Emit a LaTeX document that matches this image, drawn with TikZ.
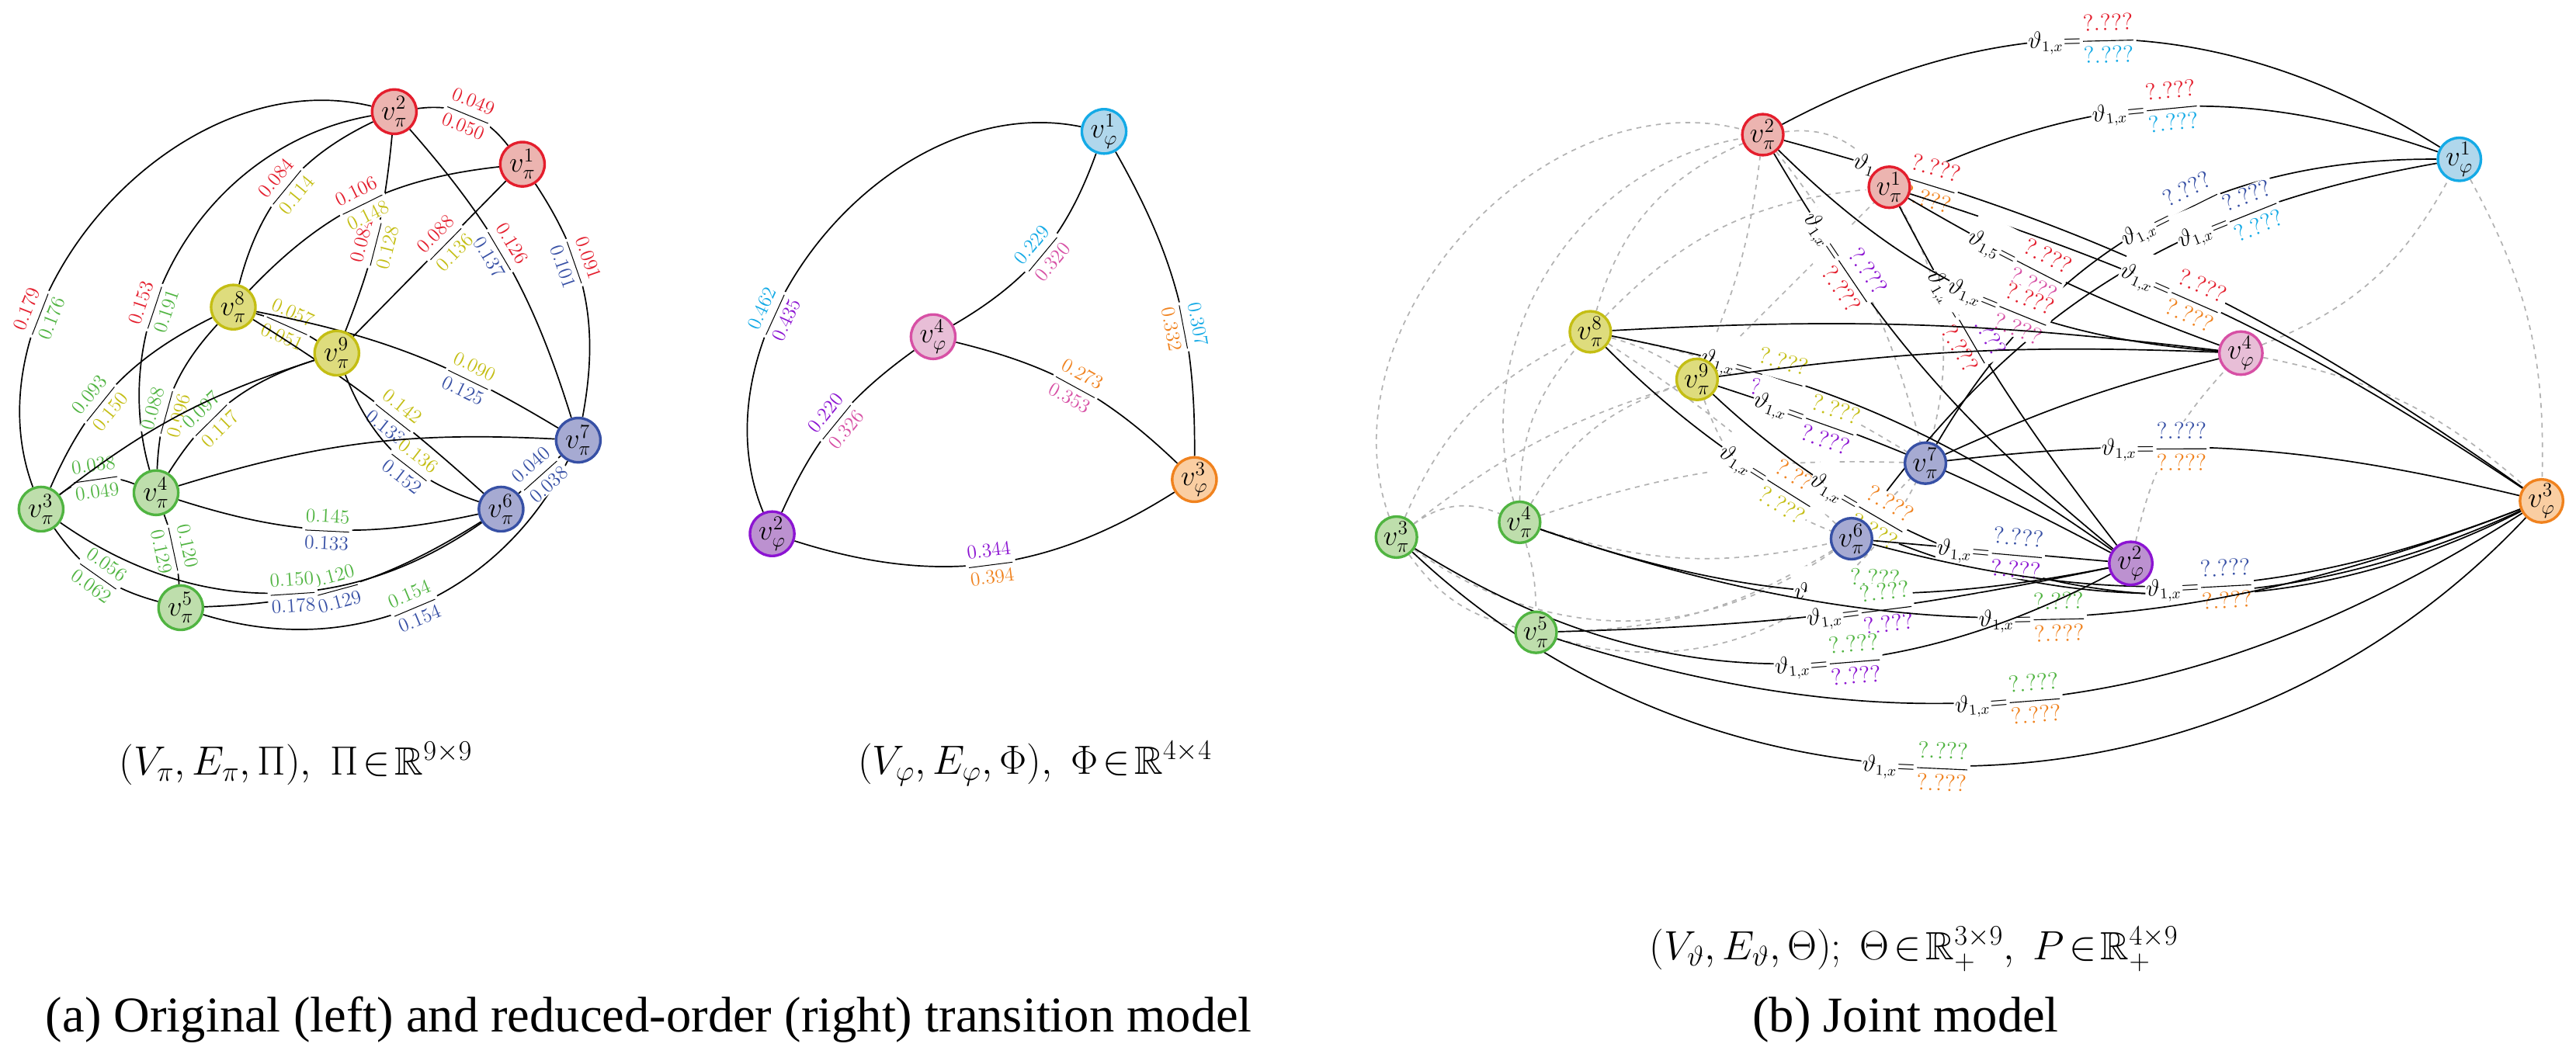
\documentclass[tikz,border=0pt]{standalone}
\usepackage{amsmath,amssymb}
\usepackage{fontspec}
\newfontfamily\capfont{Liberation Serif}
\pgfdeclarelayer{bg}\pgfdeclarelayer{mid}
\pgfsetlayers{bg,mid,main}
\definecolor{cR}{RGB}{228,30,45}\definecolor{fR}{RGB}{236,180,176}
\definecolor{cG}{RGB}{80,180,65}\definecolor{fG}{RGB}{190,222,172}
\definecolor{cY}{RGB}{196,190,20}\definecolor{fY}{RGB}{222,220,125}
\definecolor{cB}{RGB}{55,80,165}\definecolor{fB}{RGB}{166,170,210}
\definecolor{cC}{RGB}{20,170,230}\definecolor{fC}{RGB}{176,215,236}
\definecolor{cP}{RGB}{215,80,165}\definecolor{fP}{RGB}{232,190,215}
\definecolor{cO}{RGB}{240,130,30}\definecolor{fO}{RGB}{250,206,162}
\definecolor{cV}{RGB}{140,20,210}\definecolor{fV}{RGB}{188,145,208}
\newcommand\lf[4]{$\displaystyle\frac{\textcolor{#1}{#2}}{\textcolor{#3}{#4}}$}
\newcommand\tf[2]{$\vartheta_{1,x}{=}\displaystyle\frac{\textcolor{#1}{?.???}}{\textcolor{#2}{?.???}}$}
\newcommand\tfs[2]{$\vartheta_{1,5}{=}\displaystyle\frac{\textcolor{#1}{?.???}}{\textcolor{#2}{?.???}}$}
\tikzset{
 nd/.style 2 args={circle,draw=#1,fill=#2,line width=1.6pt,minimum size=27pt,inner sep=0pt,font=\fontsize{18}{19}\selectfont},
 ndr/.style 2 args={nd={#1}{#2},minimum size=25pt},
 e/.style={black,line width=0.8pt},
 d/.style={gray!60,dashed,line width=0.8pt},
 lab/.style={sloped,fill=white,inner sep=0.6pt,font=\fontsize{12}{13}\selectfont},
 tl/.style={sloped,fill=white,inner sep=0.6pt,font=\fontsize{13.5}{14}\selectfont},
}
\begin{document}
\begin{tikzpicture}[x=1pt,y=-1pt]
\useasboundingbox (0,0) rectangle (1568,641.3);
% ---------------- left graph
\node[nd={cR}{fR}] (a2) at (240,68) {$v_\pi^{2}$};
\node[nd={cR}{fR}] (a1) at (318,100) {$v_\pi^{1}$};
\node[nd={cY}{fY}] (a8) at (142,187) {$v_\pi^{8}$};
\node[nd={cY}{fY}] (a9) at (205,215) {$v_\pi^{9}$};
\node[nd={cB}{fB}] (a7) at (352,268) {$v_\pi^{7}$};
\node[nd={cG}{fG}] (a3) at (25,310) {$v_\pi^{3}$};
\node[nd={cG}{fG}] (a4) at (95,300) {$v_\pi^{4}$};
\node[nd={cB}{fB}] (a6) at (305,310) {$v_\pi^{6}$};
\node[nd={cG}{fG}] (a5) at (110,370) {$v_\pi^{5}$};
\begin{pgfonlayer}{mid}
\draw[e] (a3) to[bend left=62] node[lab,pos=0.3]{\lf{cR}{0.179}{cG}{0.176}} (a2);
\draw[e] (a4) to[bend left=48] node[lab,pos=0.35]{\lf{cR}{0.153}{cG}{0.191}} (a2);
\draw[e] (a8) to[bend left=25] node[lab]{\lf{cR}{0.084}{cY}{0.114}} (a2);
\draw[e] (a9) to[bend right=8] node[lab,pos=0.45]{\lf{cR}{0.084}{cY}{0.128}} (a2);
\draw[e] (a8) to[bend left=20] node[lab,pos=0.5]{\lf{cR}{0.106}{cY}{0.148}} (a1);
\draw[e] (a2) to[bend left=30] node[lab]{\lf{cR}{0.049}{cR}{0.050}} (a1);
\draw[e] (a2) to[bend left=12] node[lab,pos=0.45]{\lf{cR}{0.126}{cB}{0.137}} (a7);
\draw[e] (a1) to[bend left=22] node[lab,pos=0.35]{\lf{cR}{0.091}{cB}{0.101}} (a7);
\draw[e] (a9) to node[lab,pos=0.6]{\lf{cR}{0.088}{cY}{0.136}} (a1);
\draw[e] (a8) to[bend left=8] node[lab]{\lf{cY}{0.057}{cY}{0.051}} (a9);
\draw[e] (a8) to[bend left=10] node[lab,pos=0.7]{\lf{cY}{0.090}{cB}{0.125}} (a7);
\draw[e] (a8) to[bend left=5] node[lab,pos=0.6]{\lf{cY}{0.142}{cB}{0.133}} (a6);
\draw[e] (a3) to[bend left=20] node[lab,pos=0.4]{\lf{cG}{0.093}{cY}{0.150}} (a8);
\draw[e] (a4) to[bend left=20] node[lab,pos=0.35]{\lf{cG}{0.088}{cY}{0.096}} (a8);
\draw[e] (a4) to[bend left=20] node[lab,pos=0.35]{\lf{cG}{0.097}{cY}{0.117}} (a9);
\draw[e] (a3) to[bend left=30] node[lab]{\lf{cG}{0.038}{cG}{0.049}} (a4);
\draw[e] (a9) to[bend right=25] node[lab,pos=0.6]{\lf{cY}{0.136}{cB}{0.152}} (a6);
\draw[e] (a4) to[bend right=15] node[lab,pos=0.5]{\lf{cG}{0.145}{cB}{0.133}} (a6);
\draw[e] (a4) to[bend left=8] node[lab]{\lf{cG}{0.120}{cG}{0.129}} (a5);
\draw[e] (a3) to[bend right=20] node[lab]{\lf{cG}{0.056}{cG}{0.062}} (a5);
\draw[e] (a5) to[bend right=15] node[lab,pos=0.45]{\lf{cG}{0.120}{cB}{0.129}} (a6);
\draw[e] (a3) to[bend right=35] node[lab,pos=0.55]{\lf{cG}{0.150}{cB}{0.178}} (a6);
\draw[e] (a5) to[bend right=40] node[lab,pos=0.5]{\lf{cG}{0.154}{cB}{0.154}} (a7);
\draw[e] (a6) to node[lab]{\lf{cB}{0.040}{cB}{0.038}} (a7);
\draw[e] (a3) to[bend left=10] (a9);
\draw[e] (a4) to[bend left=10] (a7);
\end{pgfonlayer}
\node[font=\fontsize{24}{26}\selectfont] (ca) at (180,465) {$(V_\pi,E_\pi,\Pi),\ \Pi\!\in\!\mathbb{R}^{9\times9}$};
% ---------------- middle graph
\node[nd={cC}{fC}] (b1) at (672,80) {$v_\varphi^{1}$};
\node[nd={cP}{fP}] (b4) at (568,205) {$v_\varphi^{4}$};
\node[nd={cO}{fO}] (b3) at (727,292) {$v_\varphi^{3}$};
\node[nd={cV}{fV}] (b2) at (470,325) {$v_\varphi^{2}$};
\begin{pgfonlayer}{mid}
\draw[e] (b2) to[bend left=62] node[lab,pos=0.35]{\lf{cC}{0.462}{cV}{0.435}} (b1);
\draw[e] (b4) to[bend right=20] node[lab]{\lf{cC}{0.229}{cP}{0.320}} (b1);
\draw[e] (b1) to[bend left=15] node[lab,pos=0.6]{\lf{cC}{0.307}{cO}{0.332}} (b3);
\draw[e] (b4) to[bend left=15] node[lab,pos=0.5]{\lf{cO}{0.273}{cP}{0.353}} (b3);
\draw[e] (b2) to[bend left=15] node[lab]{\lf{cV}{0.220}{cP}{0.326}} (b4);
\draw[e] (b2) to[bend right=25] node[lab]{\lf{cV}{0.344}{cO}{0.394}} (b3);
\end{pgfonlayer}
\node[font=\fontsize{24}{26}\selectfont] (cb) at (630,465) {$(V_\varphi,E_\varphi,\Phi),\ \Phi\!\in\!\mathbb{R}^{4\times4}$};
% ---------------- right graph
\node[ndr={cR}{fR}] (r2) at (1073,82) {$v_\pi^{2}$};
\node[ndr={cR}{fR}] (r1) at (1150,114) {$v_\pi^{1}$};
\node[ndr={cY}{fY}] (r8) at (968,202) {$v_\pi^{8}$};
\node[ndr={cY}{fY}] (r9) at (1033,231) {$v_\pi^{9}$};
\node[ndr={cB}{fB}] (r7) at (1172,282) {$v_\pi^{7}$};
\node[ndr={cG}{fG}] (r3) at (850,327) {$v_\pi^{3}$};
\node[ndr={cG}{fG}] (r4) at (925,318) {$v_\pi^{4}$};
\node[ndr={cB}{fB}] (r6) at (1127,328) {$v_\pi^{6}$};
\node[ndr={cG}{fG}] (r5) at (935,385) {$v_\pi^{5}$};
\node[ndr={cC}{fC}] (s1) at (1497,97) {$v_\varphi^{1}$};
\node[ndr={cP}{fP}] (s4) at (1364,215) {$v_\varphi^{4}$};
\node[ndr={cV}{fV}] (s2) at (1297,343) {$v_\varphi^{2}$};
\node[ndr={cO}{fO}] (s3) at (1547,305) {$v_\varphi^{3}$};
\begin{pgfonlayer}{bg}
\draw[d] (r3) to[bend left=62] (r2);
\draw[d] (r4) to[bend left=48] (r2);
\draw[d] (r8) to[bend left=25] (r2);
\draw[d] (r9) to[bend right=8] (r2);
\draw[d] (r8) to[bend left=20] (r1);
\draw[d] (r2) to[bend left=30] (r1);
\draw[d] (r2) to[bend left=12] (r7);
\draw[d] (r1) to[bend left=22] (r7);
\draw[d] (r9) to (r1);
\draw[d] (r8) to[bend left=8] (r9);
\draw[d] (r8) to[bend left=10] (r7);
\draw[d] (r8) to[bend left=5] (r6);
\draw[d] (r3) to[bend left=20] (r8);
\draw[d] (r4) to[bend left=20] (r8);
\draw[d] (r4) to[bend left=20] (r9);
\draw[d] (r3) to[bend left=30] (r4);
\draw[d] (r9) to[bend right=25] (r6);
\draw[d] (r4) to[bend right=15] (r6);
\draw[d] (r4) to[bend left=8] (r5);
\draw[d] (r3) to[bend right=20] (r5);
\draw[d] (r5) to[bend right=15] (r6);
\draw[d] (r3) to[bend right=35] (r6);
\draw[d] (r5) to[bend right=40] (r7);
\draw[d] (r6) to (r7);
\draw[d] (r3) to[bend left=10] (r9);
\draw[d] (r4) to[bend left=10] (r7);
\draw[d] (s4) to[bend right=20] (s1);
\draw[d] (s1) to[bend left=15] (s3);
\draw[d] (s4) to[bend left=15] (s3);
\draw[d] (s2) to[bend left=15] (s4);
\end{pgfonlayer}
\begin{pgfonlayer}{mid}
\draw[e] (r2) to[bend left=30] node[tl,pos=0.45]{\tf{cR}{cC}} (s1);
\draw[e] (r1) to[bend left=22] node[tl,pos=0.45]{\tf{cR}{cC}} (s1);
\draw[e] (r2) to[bend left=10] node[tl,pos=0.14]{\tf{cR}{cO}} (s3);
\draw[e] (r7) to[bend left=30] node[tl,pos=0.55]{\tf{cB}{cC}} (s1);
\draw[e] (r6) to[bend left=22] node[tl,pos=0.7]{\tf{cB}{cC}} (s1);
\draw[e] (r1) to[bend left=8] node[tl,pos=0.4]{\tf{cR}{cO}} (s3);
\draw[e] (r2) to[bend right=10] node[tl,pos=0.22]{\tf{cV}{cR}} (s2);
\draw[e] (r1) to[bend right=5] node[tl,pos=0.3]{\tf{cV}{cR}} (s2);
\draw[e] (r1) to[bend right=5] node[tl,pos=0.35]{\tfs{cR}{cP}} (s4);
\draw[e] (r2) to[bend right=20] node[tl,pos=0.55]{\tf{cR}{cP}} (s4);
\draw[e] (r8) to[bend left=12] node[tl,pos=0.25]{\tf{cY}{cV}} (s2);
\draw[e] (r9) to[bend left=5] node[tl,pos=0.2]{\tf{cY}{cV}} (s2);
\draw[e] (r7) to[bend left=10] node[tl,pos=0.35]{\tf{cB}{cO}} (s3);
\draw[e] (r8) to[bend right=35] node[tl,pos=0.2]{\tf{cO}{cY}} (s3);
\draw[e] (r9) to[bend right=35] node[tl,pos=0.2]{\tf{cO}{cY}} (s3);
\draw[e] (r6) to node[tl,pos=0.5]{\tf{cB}{cV}} (s2);
\draw[e] (r4) to[bend right=15] node[tl,pos=0.55]{\tf{cG}{cV}} (s2);
\draw[e] (r5) to[bend right=5] node[tl,pos=0.55]{\tf{cG}{cV}} (s2);
\draw[e] (r6) to[bend right=18] node[tl,pos=0.5]{\tf{cB}{cO}} (s3);
\draw[e] (r4) to[bend right=20] node[tl,pos=0.5]{\tf{cG}{cO}} (s3);
\draw[e] (r3) to[bend right=30] node[tl,pos=0.6]{\tf{cG}{cV}} (s2);
\draw[e] (r5) to[bend right=25] node[tl,pos=0.45]{\tf{cG}{cO}} (s3);
\draw[e] (r3) to[bend right=45] node[tl,pos=0.45]{\tf{cG}{cO}} (s3);
\draw[e] (r8) to[bend left=5] (s4);
\draw[e] (r9) to[bend left=5] (s4);
\draw[e] (r7) to[bend left=5] (s4);
\end{pgfonlayer}
\node[font=\fontsize{24}{26}\selectfont] (cc) at (1165,578) {$(V_\vartheta,E_\vartheta,\Theta);\ \Theta\!\in\!\mathbb{R}_+^{3\times9},\ P\!\in\!\mathbb{R}_+^{4\times9}$};
\node[font=\capfont\fontsize{30.5}{34}\selectfont] (cap1) at (395,621) {(a) Original (left) and reduced-order (right) transition model};
\node[font=\capfont\fontsize{30.5}{34}\selectfont] (cap2) at (1160,621) {(b) Joint model};
\end{tikzpicture}
\end{document}
